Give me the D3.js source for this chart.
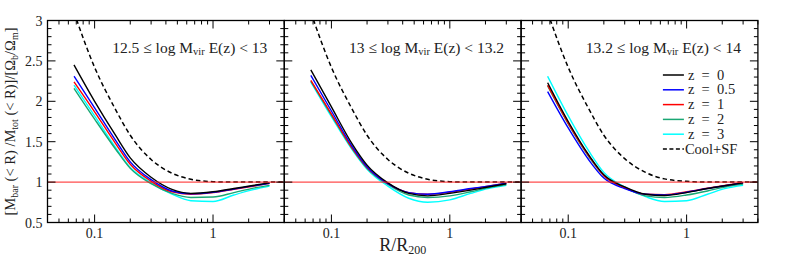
<!DOCTYPE html>
<html>
<head>
<meta charset="utf-8">
<script src="https://cdn.jsdelivr.net/npm/d3@7"></script>
<style>
  body { margin: 0; background: #fff; }
  svg { display: block; }
</style>
</head>
<body>
<div id="chart"></div>
<script>
// R/R200 sample points of the simulated profiles
const rGrid = [0.067, 0.1, 0.15, 0.2, 0.3, 0.45, 0.65, 1.0, 1.5, 2.1, 3.0];
// Cool+SF reference curve (runs to the panel edge)
const coolGrid = [0.067, 0.1, 0.15, 0.2, 0.3, 0.45, 0.65, 1.0, 1.5, 2.1, 3.0, 4.0];

const redshifts = ['z = 0', 'z = 0.5', 'z = 1', 'z = 2', 'z = 3'];
const zColors = ['#000000', '#0000ff', '#ff0000', '#1aa774', '#00ffff'];

const binTitles = ['12.5', '13', '13.2'];
const binUpper = ['13', '13.2', '14'];

// 12.5 <= log Mvir E(z) < 13, one row per redshift
const binLow = [
  [2.45, 2.00, 1.58, 1.30, 1.06, 0.91, 0.86, 0.88, 0.92, 0.955, 0.99],
  [2.31, 1.92, 1.52, 1.25, 1.03, 0.89, 0.855, 0.875, 0.915, 0.95, 0.985],
  [2.24, 1.87, 1.48, 1.22, 1.01, 0.88, 0.85, 0.87, 0.91, 0.945, 0.985],
  [2.16, 1.78, 1.41, 1.17, 0.98, 0.86, 0.81, 0.815, 0.87, 0.92, 0.96],
  [2.20, 1.82, 1.43, 1.18, 0.99, 0.85, 0.77, 0.76, 0.84, 0.90, 0.95]
];
// 13 <= log Mvir E(z) < 13.2
const binMid = [
  [2.39, 1.93, 1.47, 1.21, 0.99, 0.86, 0.83, 0.86, 0.90, 0.94, 0.98],
  [2.32, 1.88, 1.44, 1.19, 0.98, 0.87, 0.85, 0.88, 0.92, 0.95, 0.985],
  [2.26, 1.84, 1.42, 1.18, 0.98, 0.87, 0.85, 0.875, 0.915, 0.95, 0.985],
  [2.25, 1.83, 1.41, 1.17, 0.97, 0.84, 0.81, 0.83, 0.88, 0.93, 0.97],
  [2.24, 1.81, 1.40, 1.16, 0.95, 0.80, 0.75, 0.78, 0.86, 0.92, 0.96]
];
// 13.2 <= log Mvir E(z) < 14
const binHigh = [
  [2.23, 1.75, 1.33, 1.09, 0.94, 0.85, 0.835, 0.87, 0.92, 0.955, 0.99],
  [2.12, 1.67, 1.27, 1.05, 0.92, 0.85, 0.84, 0.875, 0.92, 0.955, 0.99],
  [2.20, 1.73, 1.32, 1.08, 0.93, 0.85, 0.845, 0.88, 0.925, 0.96, 0.995],
  [2.19, 1.72, 1.31, 1.08, 0.93, 0.83, 0.81, 0.84, 0.89, 0.94, 0.975],
  [2.31, 1.82, 1.38, 1.12, 0.94, 0.82, 0.76, 0.77, 0.85, 0.92, 0.96]
];

const coolLow = [3.1, 2.42, 1.90, 1.58, 1.28, 1.11, 1.035, 1.005, 1.0, 1.0, 1.0, 1.0];
const coolMid = [3.1, 2.42, 1.90, 1.58, 1.28, 1.11, 1.035, 1.005, 1.0, 1.0, 1.0, 1.0];
const coolHigh = [3.1, 2.42, 1.90, 1.58, 1.29, 1.12, 1.04, 1.01, 1.0, 1.0, 1.0, 1.0];

const yTicks = [0.5, 1, 1.5, 2, 2.5, 3];
const xTicks = [0.1, 1];

const width = 789, height = 263;
const marginLeft = 47.5, marginTop = 20.5, panelW = 236.8, panelH = 202;
const serif = "'Liberation Serif', 'DejaVu Serif', 'Times New Roman', serif";

const svg = d3.select('#chart').append('svg')
  .attr('width', width)
  .attr('height', height)
  .attr('font-family', serif);

const y = d3.scaleLinear().domain([0.5, 3]).range([marginTop + panelH, marginTop]);

const bins = [binLow, binMid, binHigh];
const cools = [coolLow, coolMid, coolHigh];

const minorX = d3.range(0.05, 0.1, 0.01).concat(d3.range(0.2, 1, 0.1), d3.range(2, 4.01, 1));
const minorY = d3.range(0.5, 3.001, 0.1);

bins.forEach((series, p) => {
  const x0 = marginLeft + p * panelW;
  const x = d3.scaleLog().domain([0.04, 4]).range([x0, x0 + panelW]);
  const g = svg.append('g');

  svg.append('clipPath').attr('id', 'clip' + p)
    .append('rect')
    .attr('x', x0).attr('y', marginTop)
    .attr('width', panelW).attr('height', panelH);

  const plot = g.append('g').attr('clip-path', 'url(#clip' + p + ')');

  const line = d3.line()
    .x(d => x(d[0]))
    .y(d => y(d[1]))
    .curve(d3.curveMonotoneX);

  // Cool+SF
  plot.append('path')
    .datum(coolGrid.map((r, i) => [r, cools[p][i]]))
    .attr('d', line)
    .attr('fill', 'none')
    .attr('stroke', '#000')
    .attr('stroke-width', 1.5)
    .attr('stroke-dasharray', '4.5,3');

  // redshift curves, drawn high z first so z=0 ends up on top
  for (let k = series.length - 1; k >= 0; k--) {
    plot.append('path')
      .datum(rGrid.map((r, i) => [r, series[k][i]]))
      .attr('d', line)
      .attr('fill', 'none')
      .attr('stroke', zColors[k])
      .attr('stroke-width', 1.4);
  }

  // unity line
  g.append('line')
    .attr('x1', x0).attr('x2', x0 + panelW)
    .attr('y1', y(1)).attr('y2', y(1))
    .attr('stroke', '#ff2020')
    .attr('stroke-width', 1);

  // ticks, all pointing inwards
  const tk = g.append('g').attr('stroke', '#000').attr('stroke-width', 1);
  const yb = marginTop + panelH;
  xTicks.forEach(v => {
    tk.append('line').attr('x1', x(v)).attr('x2', x(v)).attr('y1', yb).attr('y2', yb - 8);
    tk.append('line').attr('x1', x(v)).attr('x2', x(v)).attr('y1', marginTop).attr('y2', marginTop + 8);
  });
  minorX.forEach(v => {
    tk.append('line').attr('x1', x(v)).attr('x2', x(v)).attr('y1', yb).attr('y2', yb - 4);
    tk.append('line').attr('x1', x(v)).attr('x2', x(v)).attr('y1', marginTop).attr('y2', marginTop + 4);
  });
  minorY.forEach(v => {
    const major = Math.abs(v * 2 - Math.round(v * 2)) < 1e-6;
    const len = major ? 8 : 4;
    tk.append('line').attr('x1', x0).attr('x2', x0 + len).attr('y1', y(v)).attr('y2', y(v));
    tk.append('line').attr('x1', x0 + panelW).attr('x2', x0 + panelW - len).attr('y1', y(v)).attr('y2', y(v));
  });

  g.append('rect')
    .attr('x', x0).attr('y', marginTop)
    .attr('width', panelW).attr('height', panelH)
    .attr('fill', 'none')
    .attr('stroke', '#000')
    .attr('stroke-width', 1.3);

  // x tick labels
  xTicks.forEach(v => {
    g.append('text')
      .attr('x', x(v)).attr('y', yb + 15)
      .attr('text-anchor', 'middle')
      .attr('fill', '#222')
      .style('font-size', '14px')
      .text(v);
  });

  // mass bin title
  const t = g.append('text')
    .attr('x', x0 + panelW - 17).attr('y', marginTop + 32)
    .attr('text-anchor', 'end')
    .attr('fill', '#222')
    .style('font-size', '15.5px');
  t.append('tspan').text(binTitles[p] + ' \u2264 log M');
  t.append('tspan').attr('dy', 2.5).style('font-size', '10.5px').text('vir');
  t.append('tspan').attr('dy', -2.5).text(' E(z) < ' + binUpper[p]);

  // legend in the last panel
  if (p === 2) {
    const lx = x0 + panelW - 95;
    const rows = redshifts.map((z, i) => ({label: z, color: zColors[i], dash: null}))
      .concat([{label: 'Cool+SF', color: '#000', dash: '4,2.5'}]);
    rows.forEach((d, i) => {
      const ly = 75 + i * 14.8;
      g.append('line')
        .attr('x1', lx).attr('x2', lx + 21)
        .attr('y1', ly).attr('y2', ly)
        .attr('stroke', d.color)
        .attr('stroke-width', 1.5)
        .attr('stroke-dasharray', d.dash);
      g.append('text')
        .attr('x', lx + (d.dash ? 22 : 25)).attr('y', ly + 4.5)
        .attr('fill', '#222')
        .style('font-size', '14.5px')
        .style('white-space', 'pre')
        .text(d.label.replace(/ = /, '  =  '));
    });
  }
});

// y tick labels
yTicks.forEach(v => {
  svg.append('text')
    .attr('x', marginLeft - 5).attr('y', y(v) + 5)
    .attr('text-anchor', 'end')
    .attr('fill', '#222')
    .style('font-size', '14px')
    .text(v);
});

// x axis title
const xt = svg.append('text')
  .attr('x', marginLeft + panelW * 1.5).attr('y', 251)
  .attr('text-anchor', 'middle')
  .attr('fill', '#222')
  .style('font-size', '18px');
xt.append('tspan').text('R/R');
xt.append('tspan').attr('dy', 3).style('font-size', '12px').text('200');

// y axis title
const yt = svg.append('text')
  .attr('transform', 'translate(15,' + (marginTop + panelH / 2) + ') rotate(-90)')
  .attr('text-anchor', 'middle')
  .attr('fill', '#222')
  .style('font-size', '14.5px');
yt.append('tspan').text('[M');
yt.append('tspan').attr('dy', 2.5).style('font-size', '10px').text('bar');
yt.append('tspan').attr('dy', -2.5).text(' (< R) /M');
yt.append('tspan').attr('dy', 2.5).style('font-size', '10px').text('tot');
yt.append('tspan').attr('dy', -2.5).text(' (< R)]/[\u03a9');
yt.append('tspan').attr('dy', 2.5).style('font-size', '10px').text('b');
yt.append('tspan').attr('dy', -2.5).text('/\u03a9');
yt.append('tspan').attr('dy', 2.5).style('font-size', '10px').text('m');
yt.append('tspan').attr('dy', -2.5).text(']');
</script>
</body>
</html>
